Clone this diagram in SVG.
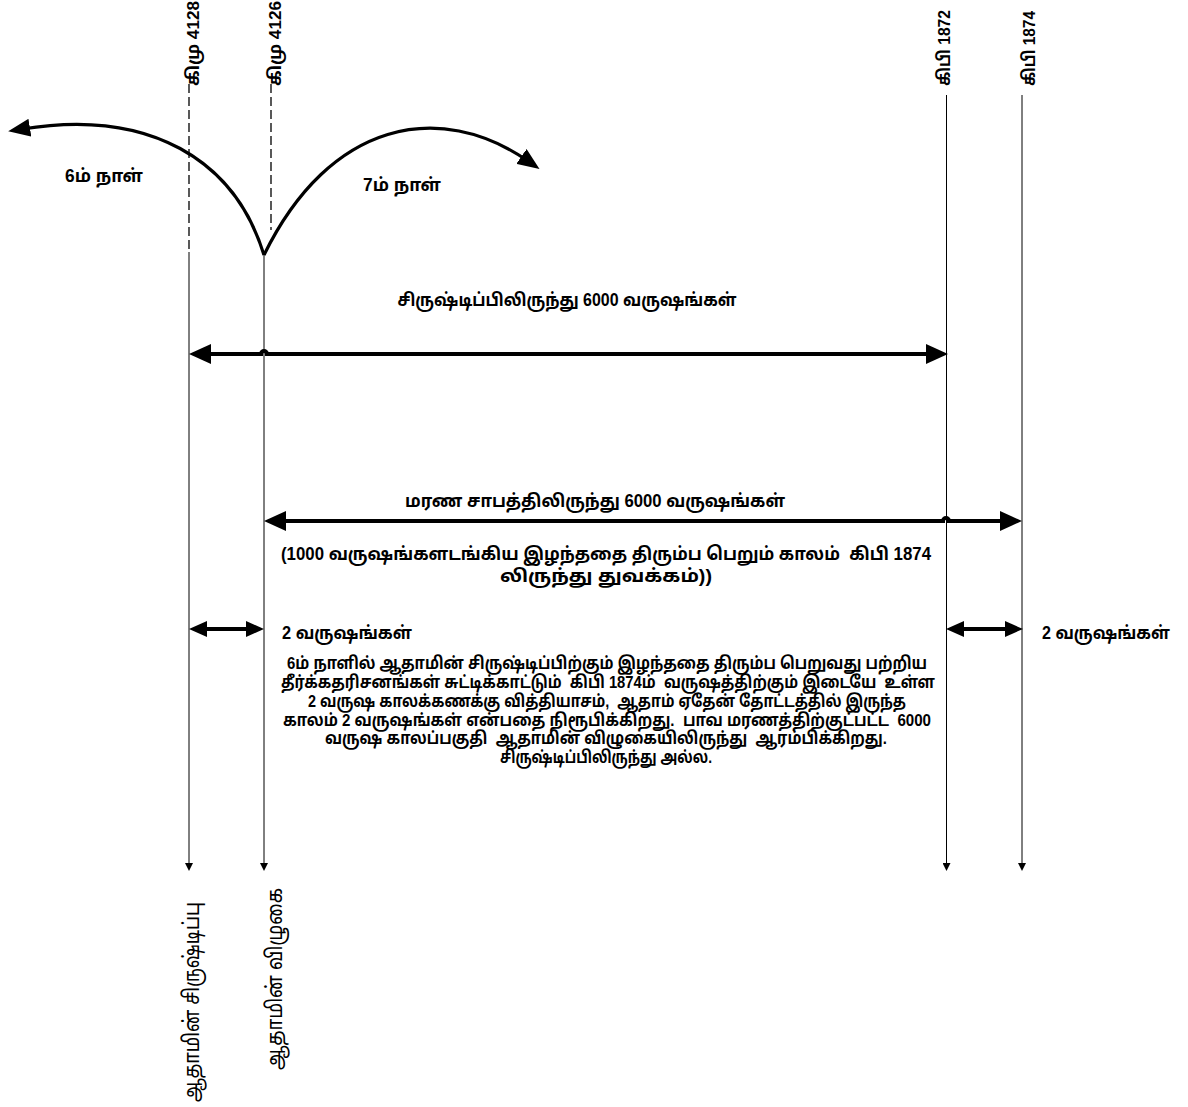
<svg xmlns="http://www.w3.org/2000/svg" width="1188" height="1107" viewBox="0 0 1188 1107">
<style>
text{font-family:"Liberation Sans","Noto Sans Tamil","Noto Sans",sans-serif;font-weight:bold;fill:#000;white-space:pre}
.s13{font-size:17px}
.s14{font-size:18px}
.top{font-size:17px}
.big{font-size:22px;font-weight:normal}
.c{text-anchor:middle}
.thin{stroke:#000;stroke-width:1;fill:none}
.dash{stroke:#000;stroke-width:1.3;fill:none;stroke-dasharray:9,4}
.arc{stroke:#000;stroke-width:3.2;fill:none}
.thick{stroke:#000;stroke-width:4;fill:none}
</style>
<defs>
<marker id="bigHead" markerUnits="userSpaceOnUse" markerWidth="22" markerHeight="20" viewBox="0 0 22 20" refX="10" refY="10" orient="auto-start-reverse"><path d="M0,0 L22,10 L0,20 Z" fill="#000"/></marker>
<marker id="midHead" markerUnits="userSpaceOnUse" markerWidth="18" markerHeight="16" viewBox="0 0 18 16" refX="8" refY="8" orient="auto-start-reverse"><path d="M0,0 L18,8 L0,16 Z" fill="#000"/></marker>
<marker id="arcHead" markerUnits="userSpaceOnUse" markerWidth="22" markerHeight="18" viewBox="0 0 22 18" refX="8" refY="9" orient="auto"><path d="M0,0 L22,9 L0,18 Z" fill="#000"/></marker>
<marker id="smallHead" markerUnits="userSpaceOnUse" markerWidth="8" markerHeight="8" viewBox="0 0 8 8" refX="1" refY="4" orient="auto"><path d="M0,0 L8,4 L0,8 Z" fill="#000"/></marker>
</defs>

<g id="connectors">
<line class="dash" x1="189" y1="84" x2="189" y2="252"/>
<line class="dash" x1="271" y1="84" x2="271" y2="230"/>
<line class="thin" x1="189" y1="252" x2="189" y2="864" marker-end="url(#smallHead)"/>
<line class="thin" x1="264" y1="255" x2="264" y2="864" marker-end="url(#smallHead)"/>
<line class="thin" x1="946.5" y1="95" x2="946.5" y2="864" marker-end="url(#smallHead)"/>
<line class="thin" x1="1022" y1="95" x2="1022" y2="864" marker-end="url(#smallHead)"/>
<path class="arc" d="M264,255 C235,160 150,108 22,129" marker-end="url(#arcHead)"/>
<path class="arc" d="M264,255 C330,120 440,100 528,161" marker-end="url(#arcHead)"/>
<path class="thick" d="M201,354 H261 A3,3 0 0 1 267,354 H936" marker-start="url(#bigHead)" marker-end="url(#bigHead)"/>
<path class="thick" d="M276,521 H943 A3,3 0 0 1 949,521 H1010" marker-start="url(#bigHead)" marker-end="url(#bigHead)"/>
<line class="thick" x1="199" y1="629" x2="254" y2="629" marker-start="url(#midHead)" marker-end="url(#midHead)"/>
<line class="thick" x1="956" y1="629" x2="1013" y2="629" marker-start="url(#midHead)" marker-end="url(#midHead)"/>
</g>

<g id="top-labels">
<text class="top" transform="translate(199,86) rotate(-90)" textLength="85" lengthAdjust="spacingAndGlyphs">கிமு 4128</text>
<text class="top" transform="translate(281,86) rotate(-90)" textLength="85" lengthAdjust="spacingAndGlyphs">கிமு 4126</text>
<text class="top" transform="translate(950,86) rotate(-90)" textLength="76" lengthAdjust="spacingAndGlyphs">கிபி 1872</text>
<text class="top" transform="translate(1035,86) rotate(-90)" textLength="75" lengthAdjust="spacingAndGlyphs">கிபி 1874</text>
</g>

<g id="day-labels">
<text class="s14 c" x="104" y="182" textLength="78" lengthAdjust="spacingAndGlyphs">6ம் நாள்</text>
<text class="s14 c" x="402" y="191" textLength="78" lengthAdjust="spacingAndGlyphs">7ம் நாள்</text>
</g>

<g id="span-creation">
<text class="s14 c" x="567" y="306" textLength="339" lengthAdjust="spacingAndGlyphs">சிருஷ்டிப்பிலிருந்து 6000 வருஷங்கள்</text>
</g>

<g id="span-curse">
<text class="s14 c" x="595" y="507" textLength="380" lengthAdjust="spacingAndGlyphs">மரண சாபத்திலிருந்து 6000 வருஷங்கள்</text>
<text class="s14 c" x="606" y="560" textLength="650" lengthAdjust="spacingAndGlyphs">(1000 வருஷங்களடங்கிய இழந்ததை திரும்ப பெறும் காலம்  கிபி 1874</text>
<text class="s14 c" x="606" y="582" textLength="212" lengthAdjust="spacingAndGlyphs">லிருந்து துவக்கம்))</text>
</g>

<g id="two-years">
<text class="s14" x="282" y="639" textLength="130" lengthAdjust="spacingAndGlyphs">2 வருஷங்கள்</text>
<text class="s14" x="1042" y="639" textLength="128" lengthAdjust="spacingAndGlyphs">2 வருஷங்கள்</text>
</g>

<g id="explanation">
<text class="s13 c" x="607" y="669" textLength="640" lengthAdjust="spacingAndGlyphs">6ம் நாளில் ஆதாமின் சிருஷ்டிப்பிற்கும் இழந்ததை திரும்ப பெறுவது பற்றிய</text>
<text class="s13 c" x="608" y="688" textLength="654" lengthAdjust="spacingAndGlyphs">தீர்க்கதரிசனங்கள் சுட்டிக்காட்டும்  கிபி 1874ம்  வருஷத்திற்கும் இடையே  உள்ள</text>
<text class="s13 c" x="607" y="707" textLength="598" lengthAdjust="spacingAndGlyphs">2 வருஷ காலக்கணக்கு வித்தியாசம்,  ஆதாம் ஏதேன் தோட்டத்தில் இருந்த</text>
<text class="s13 c" x="607" y="726" textLength="648" lengthAdjust="spacingAndGlyphs">காலம் 2 வருஷங்கள் என்பதை நிரூபிக்கிறது.  பாவ மரணத்திற்குட்பட்ட  6000</text>
<text class="s13 c" x="606" y="744" textLength="562" lengthAdjust="spacingAndGlyphs">வருஷ காலப்பகுதி  ஆதாமின் விழுகையிலிருந்து  ஆரம்பிக்கிறது.</text>
<text class="s13 c" x="606" y="763" textLength="212" lengthAdjust="spacingAndGlyphs">சிருஷ்டிப்பிலிருந்து அல்ல.</text>
</g>

<g id="bottom-labels">
<text class="big" transform="translate(199,1102) rotate(-90)" textLength="200" lengthAdjust="spacingAndGlyphs">ஆதாமின் சிருஷ்டிப்பு</text>
<text class="big" transform="translate(282,1070) rotate(-90)" textLength="182" lengthAdjust="spacingAndGlyphs">ஆதாமின் விழுகை</text>
</g>
</svg>
